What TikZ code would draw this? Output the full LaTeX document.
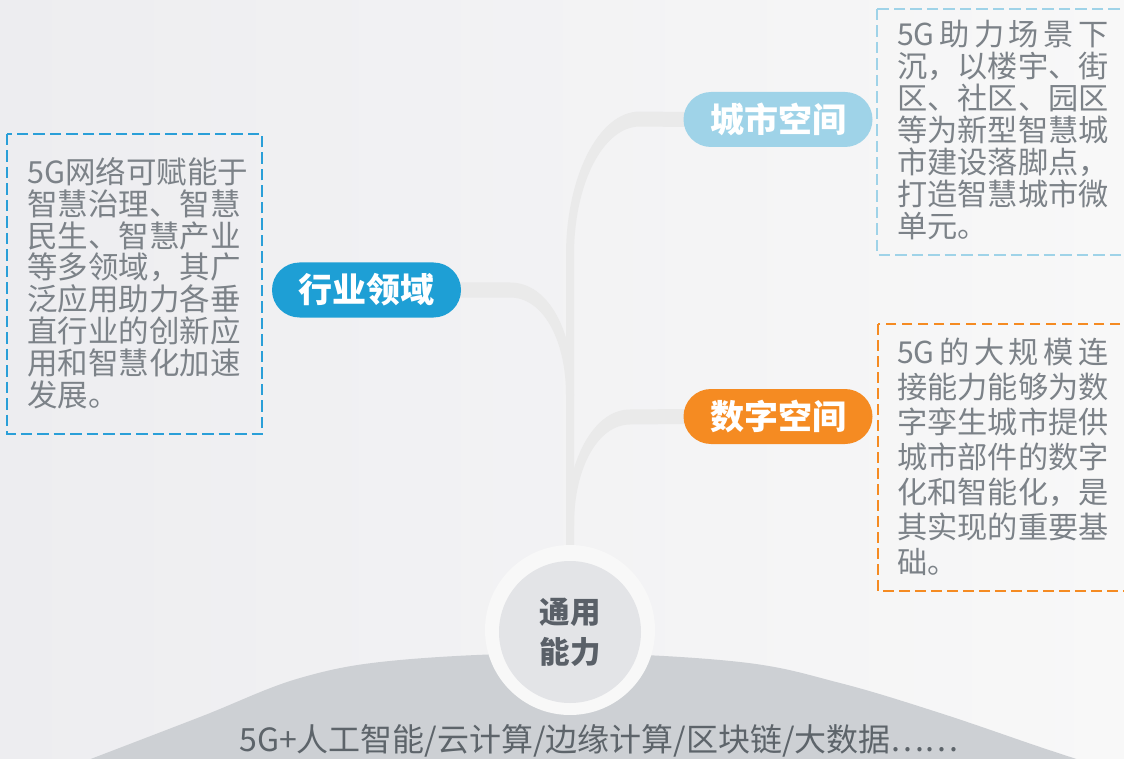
\documentclass[tikz,border=0pt]{standalone}
\usepackage{fontspec}
\setmainfont{Noto Sans CJK SC}
\usetikzlibrary{calc}
\pgfdeclarelayer{bg}
\pgfsetlayers{bg,main}
\definecolor{bgL}{HTML}{EDEDF0}
\definecolor{bgR}{HTML}{F8F8F8}
\definecolor{moundC}{HTML}{CDD0D4}
\definecolor{branchC}{HTML}{EAEAEA}
\definecolor{ringC}{HTML}{F8F8F8}
\definecolor{coreF}{HTML}{E3E4E7}
\definecolor{coreT}{HTML}{5A6068}
\definecolor{bodyT}{HTML}{7C8288}
\definecolor{baseT}{HTML}{5D646A}
\definecolor{cityC}{HTML}{9FD3E8}
\definecolor{indC}{HTML}{1E9FD5}
\definecolor{digC}{HTML}{F58B22}
\definecolor{indBox}{HTML}{2A9FD8}
\begin{document}
\begin{tikzpicture}[x=1pt,y=-1pt,
  pill/.style={rectangle, rounded corners=27.5pt, minimum width=189pt, minimum height=55pt,
    inner sep=0pt, text=white, font=\fontsize{34}{34}\selectfont\bfseries},
  descbox/.style={line width=2pt, dash pattern=on 11.5pt off 5pt},
  desctext/.style={anchor=north west, inner sep=0pt, align=left, text=bodyT},
  branchfill/.style={fill=branchC}]
\useasboundingbox (0,0) rectangle (1124,759);

% pills
\node[pill, fill=cityC] (city) at (778,119.5) {城市空间};
\node[pill, fill=digC]  (dig)  at (778,416.5) {数字空间};
\node[pill, fill=indC]  (ind)  at (366.5,290) {行业领域};

% core circle
\node[circle, fill=ringC, minimum size=170pt, inner sep=0pt] (core) at (570,630) {};
\node[circle, fill=coreF, minimum size=142pt, inner sep=0pt, text=coreT,
      font=\fontsize{30.5}{40}\selectfont\bfseries, align=center] (corein) at (570,632) {通用\\能力};

% description boxes
\draw[descbox, draw=indBox] (7,134) rectangle (262,434);
\node[desctext, font=\fontsize{30.5}{31.9}\selectfont] (indtxt) at (27,157)
 {5G网络可赋能于\\智慧治理、智慧\\民生、智慧产业\\等多领域，其广\\泛应用助力各垂\\直行业的创新应\\用和智慧化加速\\发展。};

\draw[descbox, draw=cityC, line width=1.8pt] (877,9) rectangle (1140,255);
\node[desctext, font=\fontsize{30.2}{32}\selectfont] (citytxt) at (897,20)
 {\hbox to 7em{5G\hfil 助\hfil 力\hfil 场\hfil 景\hfil 下}\\沉，以楼宇、街\\区、社区、园区\\等为新型智慧城\\市建设落脚点，\\打造智慧城市微\\单元。};

\draw[descbox, draw=digC, dash pattern=on 10.5pt off 5.5pt] (878,324) rectangle (1140,591);
\node[desctext, font=\fontsize{30.2}{35}\selectfont] (digtxt) at (897,338)
 {\hbox to 7em{5G\hfil 的\hfil 大\hfil 规\hfil 模\hfil 连}\\接能力能够为数\\字孪生城市提供\\城市部件的数字\\化和智能化，是\\其实现的重要基\\础。};

% bottom text
\node[text=baseT, font=\fontsize{32}{32}\selectfont, inner sep=0pt] (basetxt) at (599,741)
 {5G+人工智能/云计算/边缘计算/区块链/大数据……};

\begin{pgfonlayer}{bg}
\shade[left color=bgL, right color=bgR] (0,0) rectangle (1124,759);
\fill[moundC] plot[smooth, tension=0.6] coordinates {(75,765) (200,717) (300,678) (400,660) (570,653) (740,662) (840,683) (940,713) (1040,747) (1095,765)} -- cycle;
% branch to city (with trunk)
\fill[branchfill] ($(city.west)+(2,-7.5)$) -- (640,111.5) .. controls (598,111.5) and (566,178) .. (566,255)
  -- ($(core.north)+(-4,15)$) -- ($(core.north)+(4,15)$) -- (574,255)
  .. controls (574,184) and (603,126.5) .. (640,126.5) -- ($(city.west)+(2,7.5)$) -- cycle;
% branch to industry
\fill[branchfill] ($(ind.east)+(-2,-7.5)$) -- (510,282.5) .. controls (549,282.5) and (574,332) .. (574,395)
  -- (566,395) .. controls (566,340) and (543,297.5) .. (510,297.5) -- ($(ind.east)+(-2,7.5)$) -- cycle;
% branch to digital
\fill[branchfill] ($(dig.west)+(2,-7.5)$) -- (630,409.5) .. controls (593,409.5) and (566,462) .. (566,525)
  -- (574,525) .. controls (574,468) and (598,424.5) .. (630,424.5) -- ($(dig.west)+(2,7.5)$) -- cycle;
\end{pgfonlayer}
\end{tikzpicture}
\end{document}
